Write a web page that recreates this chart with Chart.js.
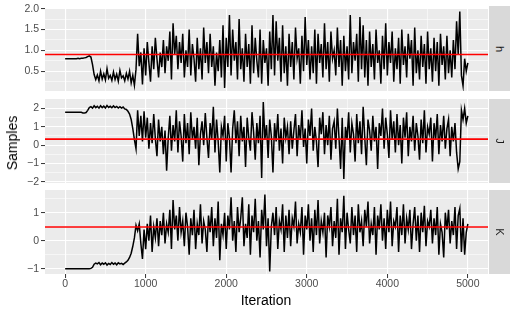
<!DOCTYPE html>
<html>
<head>
<meta charset="utf-8">
<script src="https://cdn.jsdelivr.net/npm/chart.js@4.4.0/dist/chart.umd.min.js"></script>
<style>
body { margin: 0; background: #fff; }
#wrap { position: relative; width: 517px; height: 315px; font-family: "Liberation Sans", Arial, sans-serif; }
canvas { position: absolute; left: 0; top: 0; }
.strip { position: absolute; left: 489px; width: 21px; background: #D9D9D9; }
.strip span { position: absolute; left: 50%; top: 50%; transform: translate(-50%, -50%) rotate(90deg); font-size: 11px; color: #1A1A1A; }
.axt { position: absolute; font-size: 14px; color: #000; white-space: nowrap; }
</style>
</head>
<body>
<div id="wrap">
  <canvas id="chartH" width="517" height="315"></canvas>
  <canvas id="chartJ" width="517" height="315"></canvas>
  <canvas id="chartK" width="517" height="315"></canvas>
  <div class="strip" style="top:6px;height:85px"><span>h</span></div>
  <div class="strip" style="top:99px;height:84px"><span>J</span></div>
  <div class="strip" style="top:190px;height:84px"><span>K</span></div>
  <div class="axt" style="left:12px;top:143px;transform:translate(-50%,-50%) rotate(-90deg)">Samples</div>
  <div class="axt" style="left:266px;top:300px;transform:translate(-50%,-50%)">Iteration</div>
</div>
<script>
// samples every 20 iterations, 0..5000
var step = 20;

var hSamples = [
  0.80,0.80,0.80,0.80,0.80,0.80,0.80,0.80,0.81,0.80,
  0.81,0.81,0.82,0.83,0.85,0.87,0.84,0.66,0.42,0.30,
  0.41,0.27,0.50,0.31,0.44,0.29,0.56,0.33,0.40,0.28,
  0.48,0.30,0.43,0.26,0.52,0.34,0.39,0.27,0.45,0.31,
  0.50,0.22,0.40,0.16,0.55,1.40,0.62,0.95,0.18,1.05,
  0.40,1.20,0.70,0.25,1.10,0.55,1.30,0.80,0.35,0.95,
  0.60,1.25,0.45,1.10,0.75,1.45,0.30,1.65,0.90,1.35,
  0.55,1.20,0.70,1.40,0.35,1.00,0.60,1.50,0.40,1.15,
  0.80,0.25,1.30,0.55,1.05,0.30,1.55,0.70,1.20,0.45,
  1.40,0.60,1.10,0.15,0.95,0.50,1.25,0.35,1.60,0.10,
  1.30,0.60,1.85,0.40,1.50,0.75,1.20,0.30,1.75,0.55,
  1.05,0.25,1.40,0.60,1.15,0.20,1.60,0.45,1.30,0.75,
  0.35,1.50,0.20,1.25,0.70,1.05,0.15,1.45,0.55,1.85,
  0.40,1.70,0.75,1.30,0.25,1.60,0.45,1.10,0.15,1.40,
  0.60,1.20,0.30,1.55,0.80,1.05,0.20,1.35,0.50,1.80,
  0.65,1.25,0.30,1.10,0.45,1.50,0.20,1.40,0.70,1.15,
  0.35,1.65,0.55,1.20,0.25,1.45,0.80,1.00,0.40,1.55,
  0.60,1.25,0.15,1.35,0.50,1.10,0.30,1.85,0.45,1.20,
  0.75,1.40,0.25,1.80,0.55,1.60,0.35,1.25,0.15,1.45,
  0.60,1.15,0.30,1.50,0.70,1.00,0.20,1.35,0.55,1.65,
  0.40,1.20,0.70,1.45,0.25,1.05,0.55,1.30,0.20,1.50,
  0.65,1.10,0.35,1.40,0.80,1.25,0.15,1.55,0.45,1.00,
  0.30,1.35,0.60,1.15,0.20,1.45,0.55,1.05,0.25,1.30,
  0.50,1.20,0.15,1.40,0.65,1.10,0.30,1.35,0.45,1.00,
  0.35,1.25,0.55,1.70,0.90,1.93,0.40,0.15,0.80,0.50,
  0.70
];

var jSamples = [
  1.80,1.80,1.80,1.80,1.80,1.80,1.80,1.80,1.80,1.80,
  1.79,1.76,1.75,1.78,1.90,2.05,2.10,2.02,2.15,2.05,
  2.12,2.02,2.15,2.05,2.13,2.03,2.16,2.06,2.12,2.04,
  2.14,2.05,2.11,2.03,2.10,2.02,2.08,1.98,1.95,1.85,
  1.70,1.40,0.90,0.30,-0.20,1.90,0.50,1.60,0.20,1.85,
  0.40,1.50,-0.20,1.20,0.10,1.70,0.35,-0.60,1.40,0.20,
  1.00,-0.50,0.80,-1.40,0.40,1.60,-0.30,1.10,0.20,1.90,
  -0.40,1.30,0.50,-0.90,1.70,0.10,1.20,-0.50,1.80,0.30,
  1.00,-0.20,1.50,-1.10,0.60,1.30,0.00,1.75,0.40,-0.70,
  1.20,0.30,2.10,-0.40,1.40,0.20,-1.50,1.00,0.50,1.60,
  -0.90,1.20,0.40,-1.50,0.90,1.90,0.10,1.30,-0.60,1.60,
  0.20,1.00,-1.20,1.50,0.40,-0.30,1.80,0.70,-0.80,1.20,
  0.10,1.60,-1.80,2.35,0.30,1.10,-0.70,1.40,0.50,-1.50,
  1.20,0.20,1.70,-0.30,0.90,-1.00,1.50,0.40,1.00,-0.50,
  1.30,-0.20,0.80,1.70,-0.60,1.10,0.30,1.90,-0.10,0.90,
  -1.00,1.40,0.50,2.00,-0.30,1.00,0.20,-1.20,1.50,0.60,
  1.80,-0.50,1.10,0.00,1.60,-0.80,0.90,1.30,-0.20,2.00,
  0.40,-1.30,1.50,-1.85,1.00,0.30,1.80,-0.40,1.20,0.60,
  -0.90,1.70,0.10,1.30,-0.50,2.10,0.40,-1.10,1.40,0.80,
  -0.30,1.60,0.20,1.00,-1.30,1.20,0.50,2.00,-0.20,1.50,
  0.60,-0.70,1.90,0.30,1.30,-0.40,1.70,0.00,1.10,-1.00,
  1.50,0.40,1.80,-0.60,1.00,0.20,1.60,-0.30,1.20,0.50,
  -0.80,1.40,0.10,1.90,-0.40,1.00,0.60,1.50,-0.90,1.20,
  0.30,1.70,-0.50,1.10,0.20,1.60,-0.20,0.90,1.40,-0.60,
  1.00,0.20,1.20,-0.40,-1.30,-0.90,1.90,1.40,2.00,1.20,
  1.60
];

var kSamples = [
  -1.00,-1.00,-1.00,-1.00,-1.00,-1.00,-1.00,-1.00,-1.00,-1.00,
  -1.00,-1.00,-1.00,-1.00,-1.00,-1.00,-0.99,-0.95,-0.84,-0.80,
  -0.83,-0.78,-0.86,-0.80,-0.84,-0.79,-0.87,-0.81,-0.85,-0.78,
  -0.84,-0.80,-0.86,-0.79,-0.83,-0.81,-0.85,-0.80,-0.76,-0.70,
  -0.60,-0.45,-0.20,0.10,0.55,0.35,0.60,-0.10,-0.65,0.40,
  -0.30,0.60,0.00,0.90,-0.40,0.50,0.10,0.80,-0.20,0.70,
  0.20,1.00,-0.10,0.60,0.30,1.10,-0.30,1.45,0.40,0.90,
  0.00,1.20,0.30,0.70,-0.20,1.00,0.50,-0.50,0.80,0.20,
  1.10,-0.30,0.60,0.20,1.30,-0.10,0.70,0.40,-0.40,0.90,
  0.30,1.20,-0.20,0.80,0.10,1.40,-0.70,0.60,0.20,1.00,
  -0.30,0.90,0.40,1.55,0.00,0.70,-0.40,1.20,0.30,0.80,
  1.55,-0.20,0.60,0.10,1.30,-0.50,0.90,0.30,1.50,0.00,
  0.70,-0.60,1.10,0.40,1.65,-0.20,0.80,-1.10,0.50,1.00,
  0.20,1.20,-0.30,0.70,0.40,1.30,-0.40,0.90,0.10,1.10,
  -0.20,0.80,0.50,1.40,-0.10,0.60,0.30,1.20,-0.50,0.90,
  0.40,1.30,0.00,0.80,-0.40,1.10,0.20,1.45,-0.10,0.70,
  0.30,1.00,-0.60,0.90,0.50,1.20,-0.20,0.70,0.10,1.50,
  -0.50,0.80,0.30,1.60,-0.30,1.00,0.40,-0.10,1.20,0.20,
  0.90,-0.40,1.30,0.30,0.70,-0.20,1.10,0.50,1.40,-0.10,
  0.60,0.20,1.20,-0.50,0.90,0.40,1.30,0.00,0.80,-0.30,
  1.10,0.30,1.40,-0.20,0.70,0.50,1.20,-0.40,0.90,0.20,
  1.30,-0.10,0.80,0.40,1.10,-0.30,0.60,1.20,0.00,0.90,
  -0.40,1.00,0.30,1.25,-0.20,0.70,0.50,1.10,-0.10,0.80,
  0.20,1.20,-0.50,0.60,0.30,-0.60,1.00,0.40,1.10,-0.10,
  0.70,0.20,1.20,-0.30,0.90,1.15,-0.40,0.80,-0.50,0.30,
  0.60
];

// red reference lines
var hMean = 0.90;
var jMean = 0.33;
var kMean = 0.49;

var xMajor = [0, 1000, 2000, 3000, 4000, 5000];
var xMinor = [500, 1500, 2500, 3500, 4500];

var hMajor = [0.5, 1.0, 1.5, 2.0];
var hMinor = [0.25, 0.75, 1.25, 1.75];
var jMajor = [-2, -1, 0, 1, 2];
var jMinor = [-1.5, -0.5, 0.5, 1.5];
var kMajor = [-1, 0, 1];
var kMinor = [-0.5, 0.5, 1.5];

var iterations = hSamples.map(function (v, i) { return i * step; });

var panelBg = {
  id: 'panelBg',
  beforeDraw: function (chart) {
    var a = chart.chartArea;
    var c = chart.ctx;
    c.save();
    c.fillStyle = '#EBEBEB';
    c.fillRect(a.left, a.top, a.right - a.left, a.bottom - a.top);
    c.restore();
  }
};

function fmtMinus(v) {
  return String(v).replace('-', '\u2212');
}

function makePanel(id, samples, mean, yMin, yMax, yMajor, yMinor, yFmt, padTop, padBottom, showX) {
  var pts = samples.map(function (v, i) { return { x: iterations[i], y: v }; });
  var tickFont = { family: '"Liberation Sans", Arial, sans-serif', size: 10.5 };
  return new Chart(document.getElementById(id).getContext('2d'), {
    type: 'line',
    data: {
      datasets: [
        {
          data: [{ x: -250, y: mean }, { x: 5250, y: mean }],
          borderColor: '#FF0000',
          borderWidth: 1.6,
          pointRadius: 0
        },
        {
          data: pts,
          borderColor: '#000000',
          borderWidth: 1.5,
          pointRadius: 0,
          tension: 0
        }
      ]
    },
    options: {
      responsive: false,
      animation: false,
      devicePixelRatio: 1,
      events: [],
      layout: { padding: { left: 0, top: padTop, right: 29, bottom: padBottom } },
      plugins: { legend: { display: false }, tooltip: { enabled: false } },
      scales: {
        x: {
          type: 'linear',
          min: -250,
          max: 5250,
          afterBuildTicks: function (s) {
            s.ticks = xMajor.concat(xMinor).map(function (v) { return { value: v }; });
          },
          afterFit: function (s) { s.height = showX ? 41 : 0; },
          border: { display: false },
          grid: {
            color: '#FFFFFF',
            lineWidth: function (c) { return c.tick && xMajor.indexOf(c.tick.value) >= 0 ? 1.1 : 0.55; },
            drawTicks: showX,
            tickLength: 4,
            tickColor: function (c) { return c.tick && xMajor.indexOf(c.tick.value) >= 0 ? '#333333' : 'rgba(0,0,0,0)'; },
            tickWidth: 1
          },
          ticks: {
            display: showX,
            autoSkip: false,
            maxRotation: 0,
            padding: 0,
            color: '#4D4D4D',
            font: tickFont,
            callback: function (v) { return xMajor.indexOf(v) >= 0 ? String(v) : ''; }
          }
        },
        y: {
          type: 'linear',
          min: yMin,
          max: yMax,
          afterBuildTicks: function (s) {
            s.ticks = yMajor.concat(yMinor).map(function (v) { return { value: v }; });
          },
          afterFit: function (s) { s.width = 45; },
          border: { display: false },
          grid: {
            color: '#FFFFFF',
            lineWidth: function (c) { return c.tick && yMajor.indexOf(c.tick.value) >= 0 ? 1.1 : 0.55; },
            tickLength: 4,
            tickColor: function (c) { return c.tick && yMajor.indexOf(c.tick.value) >= 0 ? '#333333' : 'rgba(0,0,0,0)'; },
            tickWidth: 1
          },
          ticks: {
            autoSkip: false,
            padding: 2,
            color: '#4D4D4D',
            font: tickFont,
            callback: function (v) { return yMajor.indexOf(v) >= 0 ? yFmt(v) : ''; }
          }
        }
      }
    },
    plugins: [panelBg]
  });
}

makePanel('chartH', hSamples, hMean, 0.025, 2.01, hMajor, hMinor,
  function (v) { return v.toFixed(1); }, 6, 224, false);
makePanel('chartJ', jSamples, jMean, -2.07, 2.52, jMajor, jMinor,
  fmtMinus, 99, 132, false);
makePanel('chartK', kSamples, kMean, -1.19, 1.81, kMajor, kMinor,
  fmtMinus, 190, 0, true);
</script>
</body>
</html>
